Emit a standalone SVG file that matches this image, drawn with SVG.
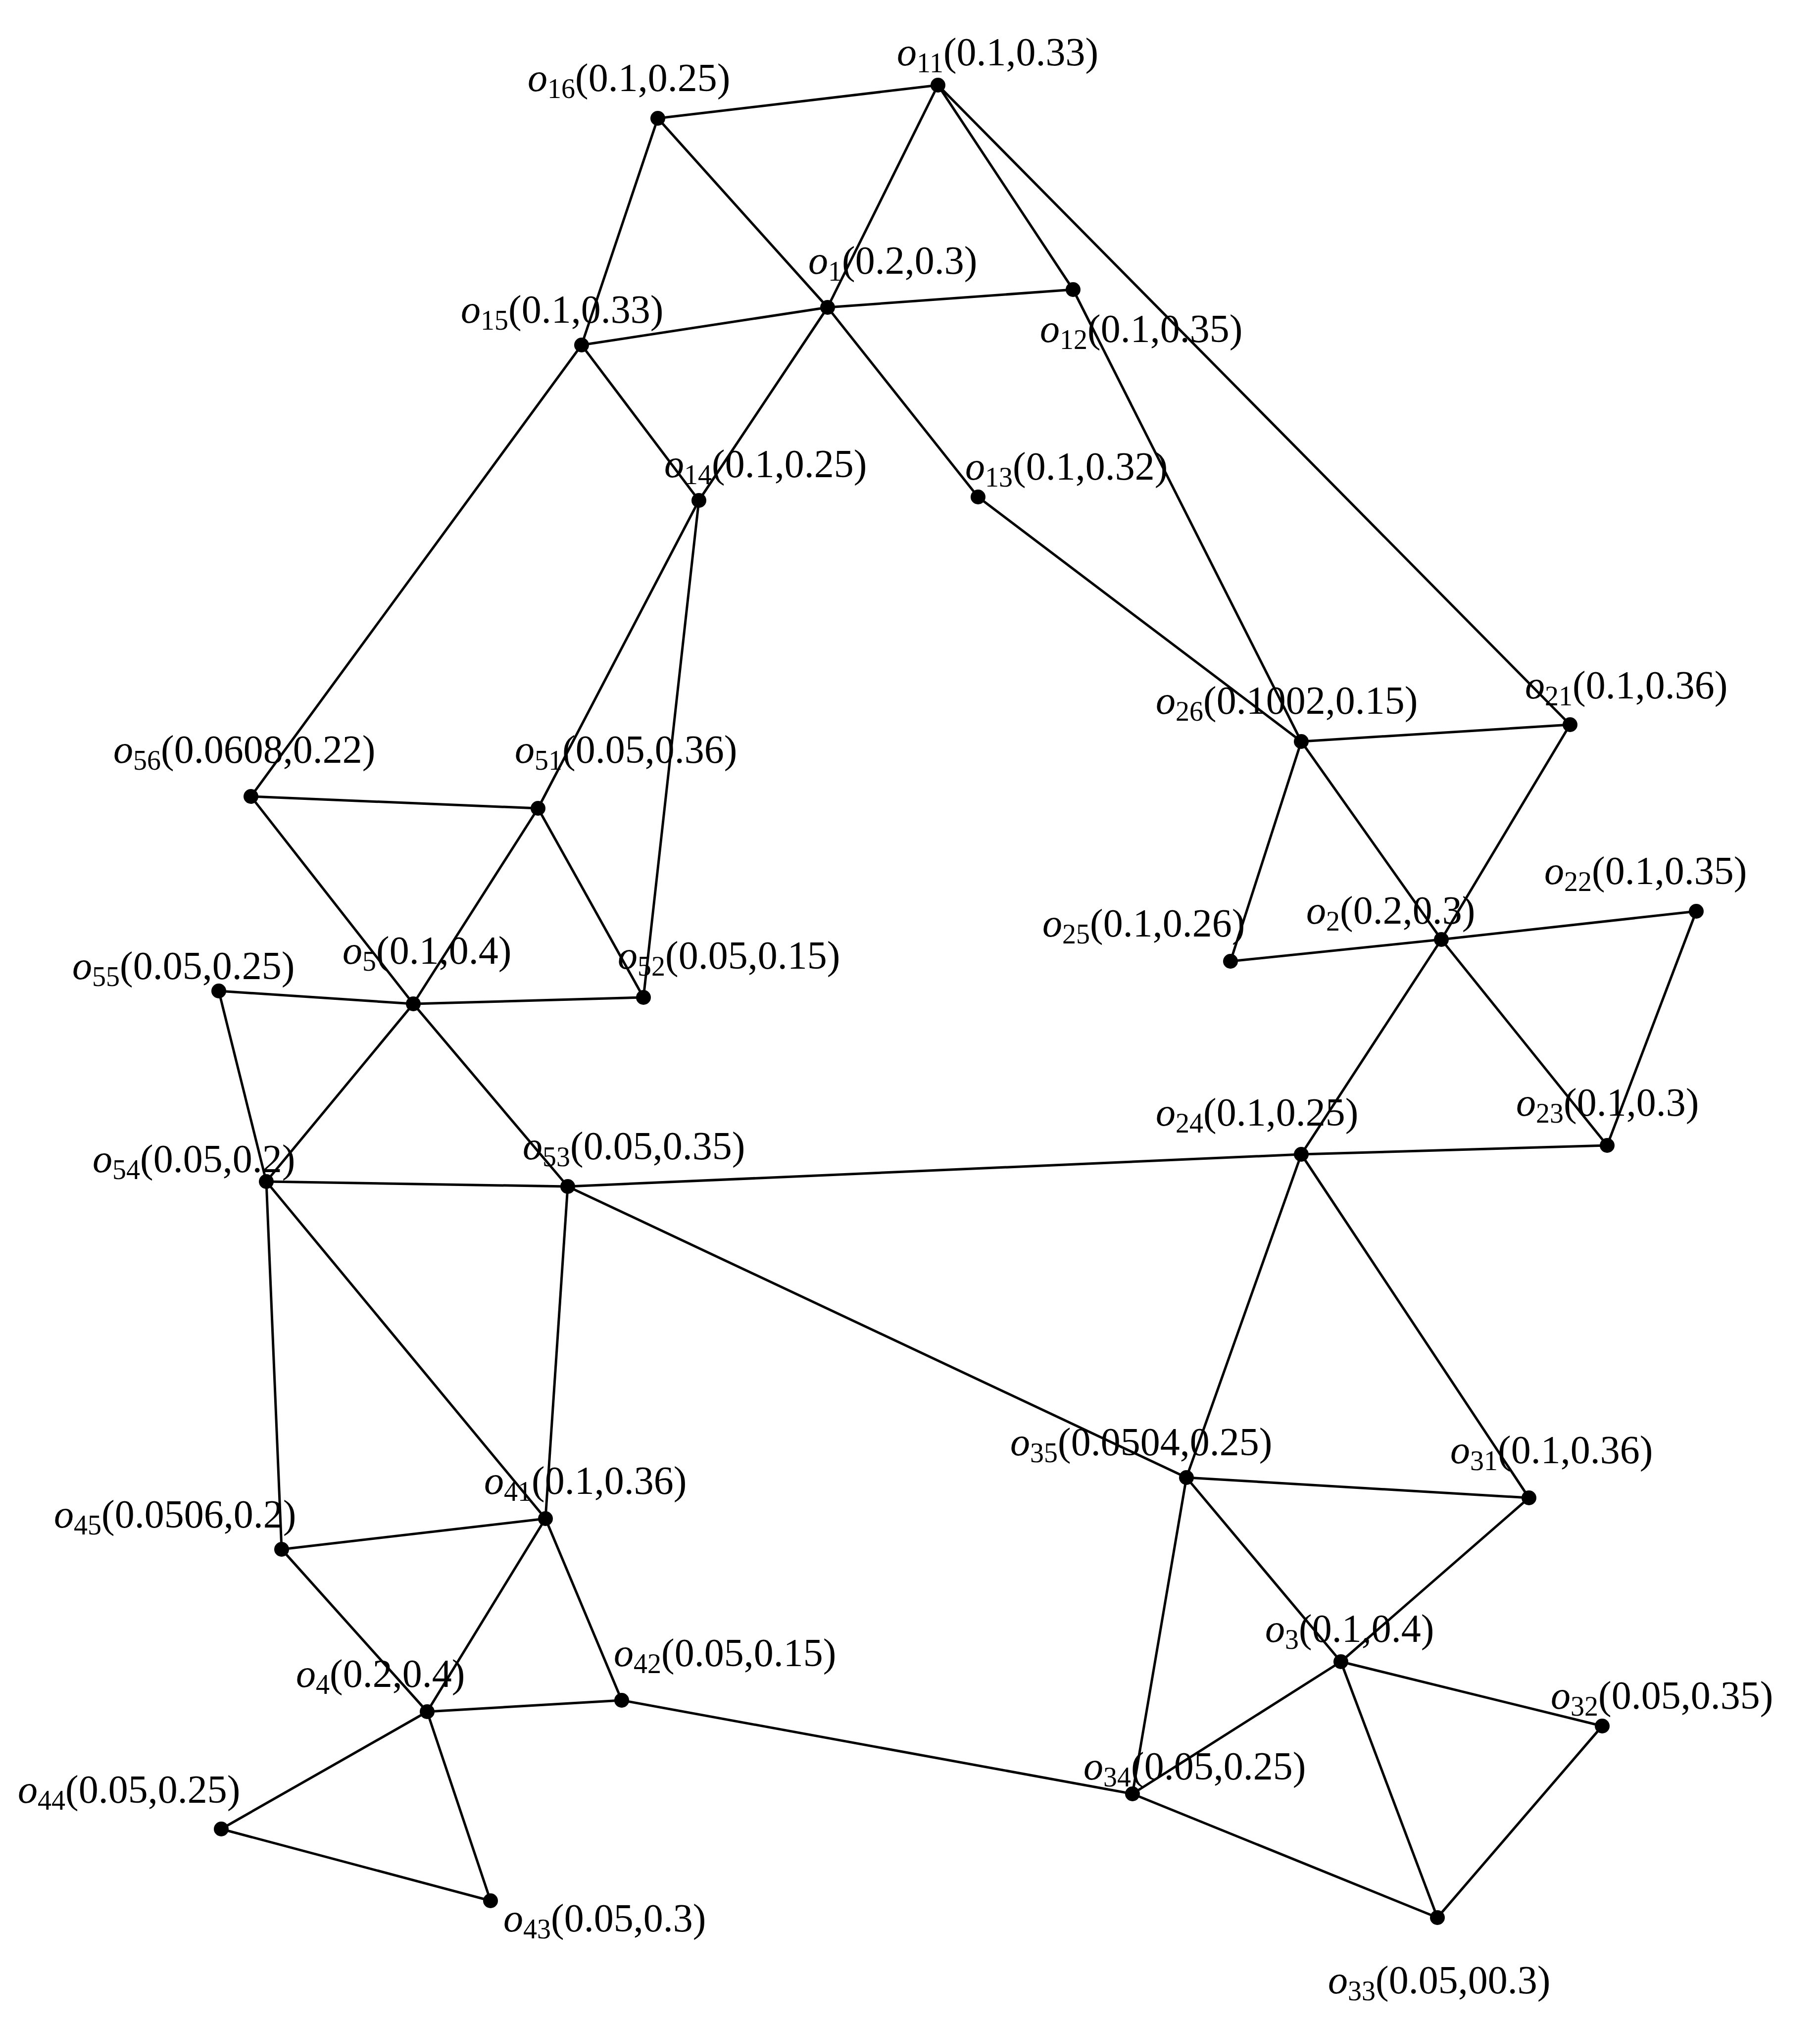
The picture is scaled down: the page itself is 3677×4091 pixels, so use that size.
<svg xmlns="http://www.w3.org/2000/svg" width="3677" height="4091" viewBox="0 0 3677 4091">
<style>
line{stroke:#000;stroke-width:5}
circle{fill:#000}
text{font-family:"Liberation Serif","Times New Roman",serif;font-size:80px;fill:#000}
.i{font-style:italic}
.s{font-size:56px}
</style>
<rect width="3677" height="4091" fill="#fff"/>
<g id="edges">
<line x1="1329" y1="239" x2="1895" y2="172"/>
<line x1="1329" y1="239" x2="1175" y2="697"/>
<line x1="1329" y1="239" x2="1672" y2="621"/>
<line x1="1672" y1="621" x2="1976" y2="1004"/>
<line x1="1895" y1="172" x2="1672" y2="621"/>
<line x1="1895" y1="172" x2="2168" y2="585"/>
<line x1="1895" y1="172" x2="3172" y2="1464"/>
<line x1="2168" y1="585" x2="2629" y2="1498"/>
<line x1="1175" y1="697" x2="1672" y2="621"/>
<line x1="1672" y1="621" x2="2168" y2="585"/>
<line x1="1175" y1="697" x2="1412" y2="1011"/>
<line x1="1175" y1="697" x2="507" y2="1609"/>
<line x1="1672" y1="621" x2="1412" y2="1011"/>
<line x1="1412" y1="1011" x2="1087" y2="1633"/>
<line x1="1412" y1="1011" x2="1300" y2="2015"/>
<line x1="1976" y1="1004" x2="2629" y2="1498"/>
<line x1="2629" y1="1498" x2="3172" y2="1464"/>
<line x1="2629" y1="1498" x2="2486" y2="1942"/>
<line x1="2629" y1="1498" x2="2912" y2="1898"/>
<line x1="3172" y1="1464" x2="2912" y2="1898"/>
<line x1="2912" y1="1898" x2="2629" y2="2332"/>
<line x1="2486" y1="1942" x2="2912" y2="1898"/>
<line x1="2912" y1="1898" x2="3427" y2="1841"/>
<line x1="2912" y1="1898" x2="3247" y2="2314"/>
<line x1="3427" y1="1841" x2="3247" y2="2314"/>
<line x1="507" y1="1609" x2="1087" y2="1633"/>
<line x1="507" y1="1609" x2="835" y2="2028"/>
<line x1="835" y1="2028" x2="1147" y2="2397"/>
<line x1="1087" y1="1633" x2="835" y2="2028"/>
<line x1="1087" y1="1633" x2="1300" y2="2015"/>
<line x1="442" y1="2002" x2="835" y2="2028"/>
<line x1="835" y1="2028" x2="1300" y2="2015"/>
<line x1="442" y1="2002" x2="538" y2="2387"/>
<line x1="835" y1="2028" x2="538" y2="2387"/>
<line x1="538" y1="2387" x2="1147" y2="2397"/>
<line x1="1147" y1="2397" x2="2629" y2="2332"/>
<line x1="2629" y1="2332" x2="3247" y2="2314"/>
<line x1="1147" y1="2397" x2="2397" y2="2985"/>
<line x1="538" y1="2387" x2="569" y2="3130"/>
<line x1="538" y1="2387" x2="1102" y2="3068"/>
<line x1="1147" y1="2397" x2="1102" y2="3068"/>
<line x1="2629" y1="2332" x2="2397" y2="2985"/>
<line x1="2629" y1="2332" x2="3089" y2="3026"/>
<line x1="2397" y1="2985" x2="3089" y2="3026"/>
<line x1="2397" y1="2985" x2="2709" y2="3357"/>
<line x1="2397" y1="2985" x2="2288" y2="3624"/>
<line x1="3089" y1="3026" x2="2709" y2="3357"/>
<line x1="2709" y1="3357" x2="3237" y2="3487"/>
<line x1="2709" y1="3357" x2="2288" y2="3624"/>
<line x1="2709" y1="3357" x2="2904" y2="3874"/>
<line x1="3237" y1="3487" x2="2904" y2="3874"/>
<line x1="2288" y1="3624" x2="2904" y2="3874"/>
<line x1="1256" y1="3435" x2="2288" y2="3624"/>
<line x1="569" y1="3130" x2="1102" y2="3068"/>
<line x1="569" y1="3130" x2="863" y2="3458"/>
<line x1="1102" y1="3068" x2="863" y2="3458"/>
<line x1="1102" y1="3068" x2="1256" y2="3435"/>
<line x1="863" y1="3458" x2="1256" y2="3435"/>
<line x1="863" y1="3458" x2="447" y2="3695"/>
<line x1="863" y1="3458" x2="991" y2="3840"/>
<line x1="447" y1="3695" x2="991" y2="3840"/>
</g>
<g id="o11"><circle cx="1895" cy="172" r="15"/><text x="1812" y="132"><tspan class="i">o</tspan><tspan class="s" dy="14">11</tspan><tspan dy="-14">(0.1,0.33)</tspan></text></g>
<g id="o16"><circle cx="1329" cy="239" r="15"/><text x="1066" y="184"><tspan class="i">o</tspan><tspan class="s" dy="14">16</tspan><tspan dy="-14">(0.1,0.25)</tspan></text></g>
<g id="o1"><circle cx="1672" cy="621" r="15"/><text x="1633" y="553"><tspan class="i">o</tspan><tspan class="s" dy="14">1</tspan><tspan dy="-14">(0.2,0.3)</tspan></text></g>
<g id="o12"><circle cx="2168" cy="585" r="15"/><text x="2101" y="691"><tspan class="i">o</tspan><tspan class="s" dy="14">12</tspan><tspan dy="-14">(0.1,0.35)</tspan></text></g>
<g id="o15"><circle cx="1175" cy="697" r="15"/><text x="931" y="652"><tspan class="i">o</tspan><tspan class="s" dy="14">15</tspan><tspan dy="-14">(0.1,0.33)</tspan></text></g>
<g id="o14"><circle cx="1412" cy="1011" r="15"/><text x="1342" y="964"><tspan class="i">o</tspan><tspan class="s" dy="14">14</tspan><tspan dy="-14">(0.1,0.25)</tspan></text></g>
<g id="o13"><circle cx="1976" cy="1004" r="15"/><text x="1950" y="969"><tspan class="i">o</tspan><tspan class="s" dy="14">13</tspan><tspan dy="-14">(0.1,0.32)</tspan></text></g>
<g id="o26"><circle cx="2629" cy="1498" r="15"/><text x="2335" y="1442"><tspan class="i">o</tspan><tspan class="s" dy="14">26</tspan><tspan dy="-14">(0.1002,0.15)</tspan></text></g>
<g id="o21"><circle cx="3172" cy="1464" r="15"/><text x="3081" y="1411"><tspan class="i">o</tspan><tspan class="s" dy="14">21</tspan><tspan dy="-14">(0.1,0.36)</tspan></text></g>
<g id="o56"><circle cx="507" cy="1609" r="15"/><text x="229" y="1541"><tspan class="i">o</tspan><tspan class="s" dy="14">56</tspan><tspan dy="-14">(0.0608,0.22)</tspan></text></g>
<g id="o51"><circle cx="1087" cy="1633" r="15"/><text x="1040" y="1541"><tspan class="i">o</tspan><tspan class="s" dy="14">51</tspan><tspan dy="-14">(0.05,0.36)</tspan></text></g>
<g id="o25"><circle cx="2486" cy="1942" r="15"/><text x="2106" y="1892"><tspan class="i">o</tspan><tspan class="s" dy="14">25</tspan><tspan dy="-14">(0.1,0.26)</tspan></text></g>
<g id="o2"><circle cx="2912" cy="1898" r="15"/><text x="2639" y="1866"><tspan class="i">o</tspan><tspan class="s" dy="14">2</tspan><tspan dy="-14">(0.2,0.3)</tspan></text></g>
<g id="o22"><circle cx="3427" cy="1841" r="15"/><text x="3120" y="1786"><tspan class="i">o</tspan><tspan class="s" dy="14">22</tspan><tspan dy="-14">(0.1,0.35)</tspan></text></g>
<g id="o55"><circle cx="442" cy="2002" r="15"/><text x="146" y="1978"><tspan class="i">o</tspan><tspan class="s" dy="14">55</tspan><tspan dy="-14">(0.05,0.25)</tspan></text></g>
<g id="o5"><circle cx="835" cy="2028" r="15"/><text x="692" y="1947"><tspan class="i">o</tspan><tspan class="s" dy="14">5</tspan><tspan dy="-14">(0.1,0.4)</tspan></text></g>
<g id="o52"><circle cx="1300" cy="2015" r="15"/><text x="1248" y="1957"><tspan class="i">o</tspan><tspan class="s" dy="14">52</tspan><tspan dy="-14">(0.05,0.15)</tspan></text></g>
<g id="o24"><circle cx="2629" cy="2332" r="15"/><text x="2335" y="2274"><tspan class="i">o</tspan><tspan class="s" dy="14">24</tspan><tspan dy="-14">(0.1,0.25)</tspan></text></g>
<g id="o23"><circle cx="3247" cy="2314" r="15"/><text x="3063" y="2254"><tspan class="i">o</tspan><tspan class="s" dy="14">23</tspan><tspan dy="-14">(0.1,0.3)</tspan></text></g>
<g id="o54"><circle cx="538" cy="2387" r="15"/><text x="187" y="2368"><tspan class="i">o</tspan><tspan class="s" dy="14">54</tspan><tspan dy="-14">(0.05,0.2)</tspan></text></g>
<g id="o53"><circle cx="1147" cy="2397" r="15"/><text x="1056" y="2342"><tspan class="i">o</tspan><tspan class="s" dy="14">53</tspan><tspan dy="-14">(0.05,0.35)</tspan></text></g>
<g id="o35"><circle cx="2397" cy="2985" r="15"/><text x="2041" y="2940"><tspan class="i">o</tspan><tspan class="s" dy="14">35</tspan><tspan dy="-14">(0.0504,0.25)</tspan></text></g>
<g id="o31"><circle cx="3089" cy="3026" r="15"/><text x="2930" y="2956"><tspan class="i">o</tspan><tspan class="s" dy="14">31</tspan><tspan dy="-14">(0.1,0.36)</tspan></text></g>
<g id="o45"><circle cx="569" cy="3130" r="15"/><text x="109" y="3086"><tspan class="i">o</tspan><tspan class="s" dy="14">45</tspan><tspan dy="-14">(0.0506,0.2)</tspan></text></g>
<g id="o41"><circle cx="1102" cy="3068" r="15"/><text x="978" y="3018"><tspan class="i">o</tspan><tspan class="s" dy="14">41</tspan><tspan dy="-14">(0.1,0.36)</tspan></text></g>
<g id="o3"><circle cx="2709" cy="3357" r="15"/><text x="2556" y="3317"><tspan class="i">o</tspan><tspan class="s" dy="14">3</tspan><tspan dy="-14">(0.1,0.4)</tspan></text></g>
<g id="o4"><circle cx="863" cy="3458" r="15"/><text x="598" y="3408"><tspan class="i">o</tspan><tspan class="s" dy="14">4</tspan><tspan dy="-14">(0.2,0.4)</tspan></text></g>
<g id="o42"><circle cx="1256" cy="3435" r="15"/><text x="1240" y="3366"><tspan class="i">o</tspan><tspan class="s" dy="14">42</tspan><tspan dy="-14">(0.05,0.15)</tspan></text></g>
<g id="o32"><circle cx="3237" cy="3487" r="15"/><text x="3133" y="3452"><tspan class="i">o</tspan><tspan class="s" dy="14">32</tspan><tspan dy="-14">(0.05,0.35)</tspan></text></g>
<g id="o34"><circle cx="2288" cy="3624" r="15"/><text x="2189" y="3595"><tspan class="i">o</tspan><tspan class="s" dy="14">34</tspan><tspan dy="-14">(0.05,0.25)</tspan></text></g>
<g id="o44"><circle cx="447" cy="3695" r="15"/><text x="36" y="3642"><tspan class="i">o</tspan><tspan class="s" dy="14">44</tspan><tspan dy="-14">(0.05,0.25)</tspan></text></g>
<g id="o43"><circle cx="991" cy="3840" r="15"/><text x="1017" y="3902"><tspan class="i">o</tspan><tspan class="s" dy="14">43</tspan><tspan dy="-14">(0.05,0.3)</tspan></text></g>
<g id="o33"><circle cx="2904" cy="3874" r="15"/><text x="2683" y="4027"><tspan class="i">o</tspan><tspan class="s" dy="14">33</tspan><tspan dy="-14">(0.05,00.3)</tspan></text></g>
</svg>
